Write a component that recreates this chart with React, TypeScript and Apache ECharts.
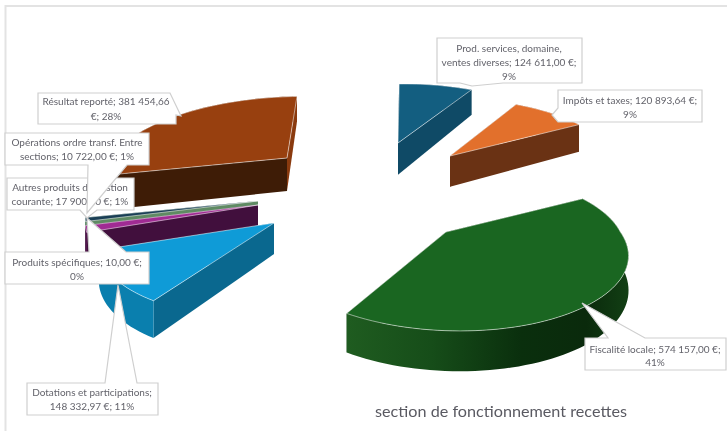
import React, { useEffect, useRef } from "react";
import * as echarts from "echarts";

const categories = [
  "Fiscalité locale",
  "Dotations et participations",
  "Produits spécifiques",
  "Autres produits de gestion courante",
  "Opérations ordre transf. Entre sections",
  "Résultat reporté",
  "Prod. services, domaine, ventes diverses",
  "Impôts et taxes",
];
const values = [574157.0, 148332.97, 10.0, 17900.0, 10722.0, 381454.66, 124611.0, 120893.64];
const topColors = ["#1a6621", "#0f9bd7", "#8a8a8a", "#a02b93", "#1a3f55", "#98400f", "#135e80", "#e2702c"];
const arcColors = ["#0f3d12", "#0a7fae", "#555555", "#5e1a58", "#1a3f55", "#5c2709", "#0d3e56", "#6a3214"];
const startWallColors = ["#0f3d12", "#0a688f", "#555555", "#410f3d", "#5f8a63", "#3e1c06", "#0d3e56", "#6a3214"];
const endWallColors = ["#0f3d12", "#0a688f", "#555555", "#410f3d", "#5f8a63", "#8a3a0e", "#0f4a66", "#6a3214"];
const sliceCenters = [
  [446, 232],
  [274, 223],
  [258, 205],
  [258, 205],
  [258, 201],
  [287, 158],
  [398, 143],
  [450, 156],
];
const sliceScale = [0.985, 0.94, 0.95, 0.95, 0.95, 1, 0.96, 0.93];
const frontShear = [14, -17, 0, 0, 0, 0, 0, 0];
const backShear = [0, 0, 0, 0, 0, -15, -6, 0];
const sliceZ = [80, 70, 50, 60, 55, 40, 20, 30];
const START_ANGLE = -28;
const RADIUS_X = 177;
const RADIUS_Y = 81;
const PERSPECTIVE = 0.24;
const DEPTH = 33;

const labelFont = "10px Lato, 'Liberation Sans', sans-serif";
const labelColor = "#63636b";

type Callout = { lines: string[]; cx: number; ys: number[]; outline: number[][] };
const callouts: Callout[] = [
  {
    lines: ["Prod. services, domaine,", "ventes diverses; 124 611,00 €;", "9%"],
    cx: 509,
    ys: [48, 62, 76],
    outline: [[437, 38], [582, 38], [582, 83], [503, 83], [472, 86], [460, 83], [437, 83]],
  },
  {
    lines: ["Impôts et taxes; 120 893,64 €;", "9%"],
    cx: 630,
    ys: [100, 114],
    outline: [[558, 90], [702, 90], [702, 122], [558, 122], [552, 115], [558, 108]],
  },
  {
    lines: ["Fiscalité locale; 574 157,00 €;", "41%"],
    cx: 655,
    ys: [349, 362],
    outline: [[585, 338], [608, 338], [582, 303], [645, 338], [726, 338], [726, 370], [585, 370]],
  },
  {
    lines: ["Résultat reporté; 381 454,66", "€; 28%"],
    cx: 106,
    ys: [101, 116],
    outline: [[38, 93], [170, 93], [181, 116], [176, 115], [176, 124], [38, 124]],
  },
  {
    lines: ["Autres produits de gestion", "courante; 17 900,00 €; 1%"],
    cx: 70,
    ys: [187, 201],
    outline: [[7, 178], [134, 178], [134, 210], [97, 210], [87, 218], [80, 210], [7, 210]],
  },
  {
    lines: ["Opérations ordre transf. Entre", "sections; 10 722,00 €; 1%"],
    cx: 77,
    ys: [142, 156],
    outline: [[5, 133], [149, 133], [149, 165], [127, 165], [87, 213], [88, 165], [5, 165]],
  },
  {
    lines: ["Produits spécifiques; 10,00 €;", "0%"],
    cx: 77,
    ys: [262, 276],
    outline: [[5, 252], [89, 252], [87, 218], [126, 252], [149, 252], [149, 284], [5, 284]],
  },
  {
    lines: ["Dotations et participations;", "148 332,97 €; 11%"],
    cx: 92,
    ys: [392, 406],
    outline: [[27, 383], [105, 383], [118, 285], [137, 383], [158, 383], [158, 415], [27, 415]],
  },
];

const total = values.reduce((a, b) => a + b, 0);
const startAngles: number[] = [];
values.reduce((acc, v, i) => {
  startAngles[i] = acc;
  return acc + (v / total) * 360;
}, START_ANGLE);

function project(i: number, deg: number, r: number) {
  const [cx, cy] = sliceCenters[i];
  const s = sliceScale[i];
  const a = (deg * Math.PI) / 180;
  const u = r * Math.cos(a);
  const v = r * Math.sin(a);
  const w = 1 + PERSPECTIVE * v;
  const shear = v > 0 ? frontShear[i] * v : backShear[i] * v;
  return { x: cx + s * RADIUS_X * u * w + shear, y: cy + s * RADIUS_Y * v * w, d: s * DEPTH * w };
}

function renderSlice(params: any, api: any) {
  const i = params.dataIndex;
  const value = api.value(0);
  const a0 = startAngles[i];
  const a1 = a0 + (value / total) * 360;
  const steps = Math.max(2, Math.ceil((a1 - a0) / 2));
  const rim = [] as { x: number; y: number; d: number }[];
  for (let s = 0; s <= steps; s++) rim.push(project(i, a0 + ((a1 - a0) * s) / steps, 1));
  const apex = project(i, 0, 0);
  const top = [[apex.x, apex.y], ...rim.map((p) => [p.x, p.y])];
  const wallOf = (pts: { x: number; y: number; d: number }[]) => [
    ...pts.map((p) => [p.x, p.y]),
    ...pts.slice().reverse().map((p) => [p.x, p.y + p.d]),
  ];
  const first = rim[0];
  const last = rim[rim.length - 1];
  const edge = "rgba(255,255,255,0.65)";
  const arcFill =
    i === 0
      ? new echarts.graphic.LinearGradient(0, 0, 1, 0, [
          { offset: 0, color: "#1f5c20" },
          { offset: 0.3, color: "#164d19" },
          { offset: 0.62, color: "#0a2f0d" },
          { offset: 0.85, color: "#0a2a0c" },
          { offset: 1, color: "#123f14" },
        ])
      : arcColors[i];
  const walls = [
    { pts: wallOf([apex, first]), fill: startWallColors[i], y: (apex.y + first.y) / 2 },
    { pts: wallOf([apex, last]), fill: endWallColors[i], y: (apex.y + last.y) / 2 },
    { pts: wallOf(rim), fill: arcFill, y: rim.reduce((t, p) => t + p.y, 0) / rim.length },
  ].sort((p, q) => p.y - q.y);
  const z = sliceZ[i];
  return {
    type: "group",
    children: [
      ...walls.map((w, k) => ({
        type: "polygon",
        z2: z + k,
        shape: { points: w.pts },
        style: { fill: w.fill, stroke: null },
      })),
      {
        type: "polygon",
        z2: z + 5,
        shape: { points: top },
        style: { fill: topColors[i], stroke: edge, lineWidth: 0.8 },
      },
    ],
  };
}

export default function App() {
  const ref = useRef<HTMLDivElement>(null);
  useEffect(() => {
    document.body.style.margin = "0";
    const chart = echarts.init(ref.current!, undefined, { renderer: "svg" });
    const graphics: any[] = [
      {
        type: "polyline",
        z: 1,
        shape: { points: [[727, 6], [5.5, 6], [5.5, 431]] },
        style: { stroke: "#e3e3e3", lineWidth: 2, fill: null },
      },
    ];
    callouts.forEach((c, n) => {
      graphics.push({
        type: "polygon",
        z: 100 + n * 2,
        shape: { points: c.outline },
        style: { fill: "#ffffff", stroke: "#cfcfcf", lineWidth: 1.2 },
      });
      c.lines.forEach((line, k) => {
        graphics.push({
          type: "text",
          z: 101 + n * 2,
          x: c.cx,
          y: c.ys[k],
          style: { text: line, fill: labelColor, font: labelFont, align: "center", verticalAlign: "middle" },
        });
      });
    });
    chart.setOption({
      animation: false,
      backgroundColor: "#ffffff",
      title: {
        text: "section de fonctionnement recettes",
        left: 496,
        top: 397,
        textAlign: "center",
        textStyle: { color: "#5a5a62", fontSize: 16.2, fontWeight: "normal", fontFamily: "Lato, sans-serif" },
      },
      series: [
        {
          type: "custom",
          coordinateSystem: "none",
          silent: true,
          data: categories.map((name, i) => ({ name, value: [values[i]] })),
          renderItem: renderSlice,
        },
      ],
      graphic: { elements: graphics },
    });
    return () => chart.dispose();
  }, []);
  return (
    <div
      ref={ref}
      style={{ position: "absolute", left: 0, top: 0, width: 727, height: 431, filter: "blur(0.3px)" }}
    />
  );
}
